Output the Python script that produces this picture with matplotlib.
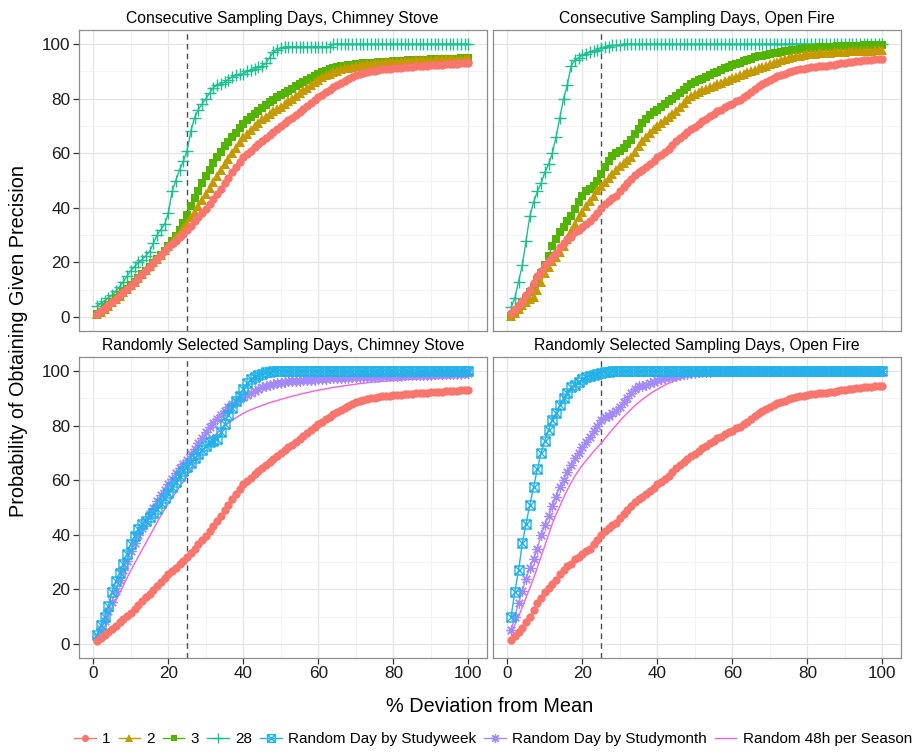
import matplotlib
matplotlib.use('Agg')
import matplotlib.pyplot as plt
from matplotlib.path import Path
from matplotlib.lines import Line2D
import numpy as np

plt.rcParams['font.family'] = ['Liberation Sans', 'DejaVu Sans']

# % deviation from mean (x axis)
pct = np.arange(1, 101)

# Probability curves, one value per % step
red_chimney = [
    1.2, 2.2, 3.3, 4.4, 5.5, 6.7, 7.9, 9.1, 10.3, 11.5,
    12.9, 14.3, 15.7, 17.1, 18.5, 19.9, 21.3, 22.7, 24.1, 25.5,
    26.6, 27.8, 29.2, 30.6, 32.0, 33.5, 35.0, 36.5, 38.0, 39.5,
    41.3, 43.2, 45.1, 47.0, 49.0, 51.0, 53.0, 55.0, 56.8, 58.5,
    59.8, 61.0, 62.2, 63.4, 64.5, 65.6, 66.7, 67.8, 68.9, 70.0,
    71.0, 72.0, 73.0, 74.0, 75.0, 76.1, 77.2, 78.3, 79.4, 80.5,
    81.4, 82.3, 83.2, 84.1, 85.0, 85.8, 86.6, 87.3, 87.9, 88.5,
    88.9, 89.3, 89.6, 90.0, 90.3, 90.5, 90.7, 90.9, 91.0, 91.2,
    91.3, 91.4, 91.5, 91.6, 91.7, 91.8, 91.9, 92.0, 92.1, 92.2,
    92.3, 92.4, 92.5, 92.6, 92.6, 92.7, 92.8, 92.9, 92.9, 93.0]
gold_chimney = [
    1.0, 2.0, 3.0, 4.2, 5.4, 6.6, 7.8, 9.0, 10.3, 11.6,
    13.0, 14.4, 15.8, 17.2, 18.6, 20.0, 21.4, 22.8, 24.4, 26.0,
    27.6, 29.2, 30.8, 32.6, 34.5, 36.5, 38.6, 40.8, 43.0, 45.2,
    47.4, 49.6, 51.8, 54.0, 56.0, 58.0, 60.0, 62.0, 64.0, 65.8,
    67.2, 68.6, 70.0, 71.2, 72.4, 73.4, 74.4, 75.3, 76.2, 77.0,
    78.0, 79.0, 80.0, 81.0, 82.0, 83.0, 84.0, 85.0, 86.0, 87.0,
    87.8, 88.5, 89.1, 89.7, 90.2, 90.7, 91.1, 91.4, 91.7, 92.0,
    92.2, 92.4, 92.6, 92.8, 93.0, 93.1, 93.2, 93.3, 93.4, 93.5,
    93.6, 93.7, 93.8, 93.8, 93.9, 94.0, 94.0, 94.1, 94.2, 94.2,
    94.3, 94.4, 94.4, 94.5, 94.5, 94.6, 94.6, 94.7, 94.7, 94.8]
green_chimney = [
    1.0, 2.0, 3.2, 4.4, 5.6, 6.8, 8.0, 9.2, 10.4, 11.7,
    13.0, 14.3, 15.6, 17.0, 18.4, 19.8, 21.2, 22.7, 24.3, 26.0,
    27.8, 29.8, 32.0, 34.5, 37.5, 40.5, 43.5, 46.3, 49.0, 51.5,
    54.0, 56.3, 58.5, 60.6, 62.5, 64.3, 66.0, 67.6, 69.2, 70.8,
    72.0, 73.2, 74.4, 75.5, 76.6, 77.6, 78.6, 79.6, 80.5, 81.3,
    82.1, 82.9, 83.7, 84.5, 85.3, 86.1, 86.9, 87.7, 88.4, 89.1,
    89.7, 90.3, 90.8, 91.2, 91.5, 91.8, 92.0, 92.2, 92.4, 92.6,
    92.8, 92.9, 93.0, 93.1, 93.2, 93.3, 93.4, 93.5, 93.6, 93.7,
    93.8, 93.8, 93.9, 94.0, 94.0, 94.1, 94.2, 94.2, 94.3, 94.4,
    94.4, 94.5, 94.5, 94.6, 94.6, 94.7, 94.7, 94.8, 94.8, 94.9]
teal_chimney = [
    4.0, 5.0, 6.0, 7.0, 8.0, 9.5, 11.0, 13.0, 15.0, 17.0,
    18.5, 20.0, 21.0, 22.5, 24.0, 27.0, 30.0, 32.0, 34.0, 38.0,
    46.0, 50.0, 54.0, 57.0, 61.0, 68.0, 73.0, 76.0, 78.0, 80.0,
    82.0, 84.0, 85.0, 85.5, 86.0, 87.0, 88.0, 88.5, 89.0, 89.0,
    90.0, 90.5, 91.0, 91.5, 92.0, 93.0, 95.0, 97.0, 98.0, 98.5,
    99, 99, 99, 99, 99, 99, 99, 99, 99, 99,
    99, 99, 99, 100, 100, 100, 100, 100, 100, 100,
    100, 100, 100, 100, 100, 100, 100, 100, 100, 100,
    100, 100, 100, 100, 100, 100, 100, 100, 100, 100,
    100, 100, 100, 100, 100, 100, 100, 100, 100, 100]

red_open = [
    1.5, 3.0, 4.5, 6.0, 8.0, 10.0, 12.5, 15.0, 17.0, 19.0,
    20.5, 22.0, 23.5, 25.5, 27.0, 28.5, 29.5, 31.0, 32.0, 33.0,
    34.0, 35.0, 36.5, 38.0, 40.0, 41.5, 42.5, 43.5, 44.5, 46.0,
    47.5, 49.0, 50.5, 52.0, 53.0, 54.0, 55.0, 56.0, 57.2, 58.5,
    59.5, 60.5, 61.7, 63.0, 64.5, 65.7, 66.7, 67.7, 68.7, 69.7,
    70.7, 71.7, 72.7, 73.6, 74.5, 75.3, 76.0, 76.8, 77.5, 78.2,
    79.0, 79.6, 80.5, 81.5, 82.5, 83.5, 84.5, 85.4, 86.2, 87.0,
    87.7, 88.3, 88.8, 89.2, 89.6, 90.0, 90.4, 90.7, 91.0, 91.3,
    91.5, 91.7, 91.9, 92.0, 92.1, 92.3, 92.5, 92.7, 92.9, 93.1,
    93.3, 93.5, 93.7, 93.9, 94.0, 94.2, 94.3, 94.4, 94.5, 94.6]
gold_open = [
    0.5, 1.5, 3.0, 4.5, 5.5, 6.5, 7.5, 10.0, 13.0, 16.0,
    18.5, 20.5, 22.0, 24.0, 26.0, 28.5, 31.5, 34.0, 36.5, 38.5,
    40.5, 42.5, 44.5, 46.5, 48.0, 49.5, 51.0, 52.5, 54.0, 55.5,
    56.5, 57.5, 58.5, 60.5, 62.5, 64.5, 66.0, 67.5, 68.8, 70.0,
    71.2, 72.2, 73.2, 74.3, 75.6, 77.0, 78.4, 79.8, 81.0, 81.8,
    82.5, 83.1, 83.6, 84.2, 84.8, 85.3, 85.8, 86.4, 86.9, 87.5,
    88.0, 88.6, 89.1, 89.6, 90.1, 90.6, 91.1, 91.6, 92.1, 92.6,
    93.1, 93.6, 94.1, 94.6, 95.0, 95.3, 95.6, 95.8, 96.0, 96.2,
    96.4, 96.5, 96.6, 96.7, 96.8, 96.9, 97.0, 97.0, 97.1, 97.2,
    97.3, 97.3, 97.4, 97.5, 97.5, 97.6, 97.6, 97.7, 97.7, 97.8]
green_open = [
    0.5, 2.0, 3.5, 5.0, 7.0, 9.0, 11.0, 13.5, 16.0, 19.0,
    22.5, 26.0, 28.5, 31.0, 33.0, 35.0, 37.0, 39.5, 42.0, 44.5,
    46.0, 47.0, 48.0, 50.0, 52.5, 55.0, 57.0, 59.0, 60.0, 61.0,
    62.0, 63.5, 65.0, 67.0, 69.0, 71.0, 72.5, 74.0, 75.0, 76.0,
    77.0, 78.0, 79.0, 80.0, 81.0, 82.0, 83.2, 84.3, 85.3, 86.0,
    86.7, 87.3, 88.0, 88.6, 89.3, 89.9, 90.5, 91.1, 91.7, 92.2,
    92.7, 93.2, 93.7, 94.2, 94.7, 95.1, 95.5, 95.8, 96.1, 96.4,
    96.7, 96.9, 97.1, 97.4, 97.6, 97.8, 98.0, 98.2, 98.3, 98.5,
    98.6, 98.7, 98.8, 98.9, 99.0, 99.1, 99.1, 99.2, 99.2, 99.3,
    99.3, 99.4, 99.4, 99.4, 99.5, 99.5, 99.5, 99.6, 99.6, 99.6]
teal_open = [
    3.5, 7.0, 13.0, 19.0, 28.0, 37.0, 42.0, 46.0, 49.0, 53.0,
    56.0, 60.0, 66.0, 73.0, 80.0, 85.0, 92.0, 94.0, 95.0, 96.0,
    96.5, 97.0, 97.5, 98.0, 98.5, 99.0, 99.0, 99.5, 99.5, 99.5,
    100, 100, 100, 100, 100, 100, 100, 100, 100, 100,
    100, 100, 100, 100, 100, 100, 100, 100, 100, 100,
    100, 100, 100, 100, 100, 100, 100, 100, 100, 100,
    100, 100, 100, 100, 100, 100, 100, 100, 100, 100,
    100, 100, 100, 100, 100, 100, 100, 100, 100, 100,
    100, 100, 100, 100, 100, 100, 100, 100, 100, 100,
    100, 100, 100, 100, 100, 100, 100, 100, 100, 100]

week_chimney = [
    3.3, 7.0, 10.0, 14.0, 19.0, 23.0, 26.0, 29.5, 33.0, 36.5,
    39.5, 42.0, 44.0, 45.0, 46.5, 48.0, 49.5, 51.5, 53.5, 55.5,
    57.5, 59.5, 61.5, 63.5, 65.0, 66.5, 68.0, 69.5, 71.0, 72.5,
    74.0, 74.5, 75.0, 77.5, 80.5, 84.0, 86.5, 89.0, 91.0, 93.5,
    95.5, 97.0, 98.0, 98.5, 99.0, 99.5, 99.8, 100, 100, 100,
    100, 100, 100, 100, 100, 100, 100, 100, 100, 100,
    100, 100, 100, 100, 100, 100, 100, 100, 100, 100,
    100, 100, 100, 100, 100, 100, 100, 100, 100, 100,
    100, 100, 100, 100, 100, 100, 100, 100, 100, 100,
    100, 100, 100, 100, 100, 100, 100, 100, 100, 100]
month_chimney = [
    2.5, 5.5, 8.5, 12.0, 15.5, 19.5, 23.5, 27.0, 30.5, 34.0,
    37.0, 40.0, 42.5, 45.0, 47.5, 50.0, 52.5, 54.5, 56.5, 58.5,
    60.5, 62.5, 64.5, 66.0, 67.5, 69.5, 71.5, 73.5, 75.5, 77.5,
    79.5, 81.0, 82.5, 84.0, 85.5, 86.7, 87.8, 88.8, 89.8, 90.6,
    91.4, 92.1, 92.8, 93.4, 94.0, 94.5, 95.0, 95.3, 95.6, 95.8,
    96.0, 96.2, 96.3, 96.4, 96.5, 96.6, 96.7, 96.8, 96.9, 97.0,
    97.1, 97.2, 97.3, 97.4, 97.5, 97.5, 97.6, 97.6, 97.7, 97.7,
    97.8, 97.8, 97.9, 97.9, 98.0, 98.0, 98.1, 98.1, 98.2, 98.2,
    98.3, 98.3, 98.4, 98.4, 98.5, 98.5, 98.6, 98.6, 98.7, 98.7,
    98.8, 98.8, 98.9, 98.9, 99.0, 99.0, 99.1, 99.1, 99.2, 99.3]
season_chimney = [
    3.0, 5.5, 8.0, 10.5, 13.0, 15.8, 18.6, 21.4, 24.2, 27.0,
    29.5, 32.0, 34.5, 37.0, 39.5, 42.0, 44.5, 47.0, 49.3, 51.5,
    53.5, 55.5, 57.5, 59.5, 61.5, 63.8, 66.0, 68.2, 70.4, 72.3,
    74.0, 75.6, 77.2, 78.6, 79.8, 80.9, 81.9, 82.9, 83.7, 84.5,
    85.2, 85.8, 86.4, 86.9, 87.4, 87.9, 88.4, 88.8, 89.2, 89.6,
    90.0, 90.4, 90.8, 91.1, 91.5, 91.8, 92.1, 92.4, 92.7, 93.0,
    93.2, 93.5, 93.7, 94.0, 94.2, 94.4, 94.6, 94.8, 95.0, 95.2,
    95.4, 95.5, 95.7, 95.9, 96.0, 96.1, 96.2, 96.3, 96.4, 96.5,
    96.6, 96.7, 96.8, 96.9, 97.0, 97.0, 97.1, 97.1, 97.2, 97.2,
    97.3, 97.3, 97.4, 97.4, 97.5, 97.5, 97.6, 97.6, 97.7, 97.7]

week_open = [
    10.0, 19.0, 27.0, 37.0, 44.0, 51.0, 57.5, 64.0, 70.0, 74.5,
    78.5, 82.0, 84.5, 87.5, 90.0, 92.0, 94.0, 95.0, 96.0, 97.0,
    97.7, 98.2, 98.6, 99.0, 99.3, 99.6, 99.8, 100, 100, 100,
    100, 100, 100, 100, 100, 100, 100, 100, 100, 100,
    100, 100, 100, 100, 100, 100, 100, 100, 100, 100,
    100, 100, 100, 100, 100, 100, 100, 100, 100, 100,
    100, 100, 100, 100, 100, 100, 100, 100, 100, 100,
    100, 100, 100, 100, 100, 100, 100, 100, 100, 100,
    100, 100, 100, 100, 100, 100, 100, 100, 100, 100,
    100, 100, 100, 100, 100, 100, 100, 100, 100, 100]
month_open = [
    5.0, 10.0, 15.0, 19.5, 24.0, 28.0, 31.0, 35.0, 40.0, 43.5,
    47.0, 50.5, 54.0, 57.5, 60.0, 63.0, 65.5, 68.0, 70.0, 72.0,
    74.0, 76.0, 78.0, 80.0, 82.0, 83.0, 83.5, 84.5, 85.5, 87.0,
    88.5, 90.0, 92.0, 93.5, 94.5, 94.5, 95.0, 95.5, 96.0, 96.7,
    97.0, 97.4, 97.8, 98.0, 98.3, 98.6, 98.8, 99.0, 99.2, 99.4,
    99.5, 99.6, 99.7, 99.8, 99.9, 100, 100, 100, 100, 100,
    100, 100, 100, 100, 100, 100, 100, 100, 100, 100,
    100, 100, 100, 100, 100, 100, 100, 100, 100, 100,
    100, 100, 100, 100, 100, 100, 100, 100, 100, 100,
    100, 100, 100, 100, 100, 100, 100, 100, 100, 100]
season_open = [
    4.0, 7.0, 10.0, 13.5, 17.0, 20.5, 24.0, 28.0, 32.0, 36.0,
    40.0, 44.0, 47.5, 50.5, 53.5, 56.5, 59.0, 61.5, 63.5, 65.5,
    67.2, 68.8, 70.5, 72.0, 73.5, 75.2, 76.9, 78.5, 80.1, 81.7,
    83.2, 84.6, 86.0, 87.3, 88.5, 89.6, 90.6, 91.6, 92.5, 93.3,
    94.1, 94.8, 95.5, 96.1, 96.7, 97.2, 97.7, 98.1, 98.4, 98.7,
    99.0, 99.2, 99.4, 99.5, 99.6, 99.7, 99.8, 99.9, 100, 100,
    100, 100, 100, 100, 100, 100, 100, 100, 100, 100,
    100, 100, 100, 100, 100, 100, 100, 100, 100, 100,
    100, 100, 100, 100, 100, 100, 100, 100, 100, 100,
    100, 100, 100, 100, 100, 100, 100, 100, 100, 100]

labels = ['1', '2', '3', '28', 'Random Day by Studyweek',
          'Random Day by Studymonth', 'Random 48h per Season']
titles = ['Consecutive Sampling Days, Chimney Stove',
          'Consecutive Sampling Days, Open Fire',
          'Randomly Selected Sampling Days, Chimney Stove',
          'Randomly Selected Sampling Days, Open Fire']

# square with an X inside (ggplot shape 7)
box_x = Path([(-1, -1), (1, -1), (1, 1), (-1, 1), (-1, -1),
              (-1, -1), (1, 1), (-1, 1), (1, -1)],
             [Path.MOVETO, Path.LINETO, Path.LINETO, Path.LINETO, Path.CLOSEPOLY,
              Path.MOVETO, Path.LINETO, Path.MOVETO, Path.LINETO])

styles = {
    '1': dict(color='#F8766D', marker='o', ms=6.0, mew=0),
    '2': dict(color='#C49A00', marker='^', ms=6.6, mew=0),
    '3': dict(color='#53B400', marker='s', ms=5.6, mew=0),
    '28': dict(color='#1DBF92', marker='+', ms=9, mew=1.0),
    'Random Day by Studyweek': dict(color='#22B2E8', marker=box_x, ms=6.5, mew=1.0, mfc='none'),
    'Random Day by Studymonth': dict(color='#A58AFF', marker=(8, 2, 0), ms=7.5, mew=0.9),
    'Random 48h per Season': dict(color='#FB61D7', marker=None),
}

panels = [
    [('28', teal_chimney), ('3', green_chimney), ('2', gold_chimney), ('1', red_chimney)],
    [('28', teal_open), ('3', green_open), ('2', gold_open), ('1', red_open)],
    [('Random 48h per Season', season_chimney), ('Random Day by Studymonth', month_chimney),
     ('Random Day by Studyweek', week_chimney), ('1', red_chimney)],
    [('Random 48h per Season', season_open), ('Random Day by Studymonth', month_open),
     ('Random Day by Studyweek', week_open), ('1', red_open)],
]

fig = plt.figure(figsize=(9.21, 7.52), dpi=100)

W, H = 921.0, 752.0
lefts = [78.5 / W, 492.5 / W]
width = 408.4 / W
bottoms = [1 - 330.7 / H, 1 - 657.7 / H]
height = 300.3 / H

def draw_panel(ax, series, title, row, col):
    ax.set_xlim(-3.95, 104.95)
    ax.set_ylim(-5, 105)
    ax.set_xticks(np.arange(0, 101, 20))
    ax.set_yticks(np.arange(0, 101, 20))
    ax.set_xticks(np.arange(10, 100, 20), minor=True)
    ax.set_yticks(np.arange(10, 100, 20), minor=True)
    ax.grid(which='major', color='#E5E5E5', lw=0.9)
    ax.grid(which='minor', color='#F3F3F3', lw=0.6)
    ax.set_axisbelow(True)
    for sp in ax.spines.values():
        sp.set_color('#8C8C8C')
        sp.set_linewidth(0.9)
    ax.tick_params(which='minor', length=0)
    ax.tick_params(which='major', length=4, width=0.9, color='#333333',
                   labelsize=12.3, labelcolor='#1a1a1a', pad=2)
    if row == 0:
        ax.tick_params(axis='x', length=0, labelbottom=False)
    if col == 1:
        ax.tick_params(axis='y', length=0, labelleft=False)
    ax.axvline(25, color='#4D4D4D', lw=1.0, ls=(0, (4, 3)), zorder=1)
    for name, vals in series:
        st = styles[name]
        ax.plot(pct, vals, color=st['color'], lw=1.0, marker=st['marker'],
                ms=st.get('ms', 0), mew=st.get('mew', 0),
                mfc=st.get('mfc', st['color']), mec=st['color'], zorder=2)
    ax.set_title(title, fontsize=11.3, pad=5)

for i, (series, title) in enumerate(zip(panels, titles)):
    row, col = i // 2, i % 2
    ax = fig.add_axes([lefts[col], bottoms[row], width, height])
    draw_panel(ax, series, title, row, col)

fig.text((78.5 + 900.9) / 2 / W, 1 - 706 / H, '% Deviation from Mean',
         ha='center', va='center', fontsize=14.3)
fig.text(19 / W, 1 - 341 / H, 'Probability of Obtaining Given Precision',
         ha='center', va='center', rotation=90, fontsize=14.3)

# Legend along the bottom
handles = []
for name in labels:
    st = styles[name]
    handles.append(Line2D([], [], color=st['color'], lw=1.0, marker=st['marker'],
                          ms=st.get('ms', 0) * 0.85, mew=st.get('mew', 0),
                          mfc=st.get('mfc', st['color']), mec=st['color']))
fig.legend(handles, labels, loc='center', bbox_to_anchor=(493 / W, 1 - 739 / H),
           ncol=7, frameon=False, fontsize=11, handlelength=1.4,
           handletextpad=0.4, columnspacing=0.55, borderaxespad=0)

fig.savefig('out.png', dpi=100)
